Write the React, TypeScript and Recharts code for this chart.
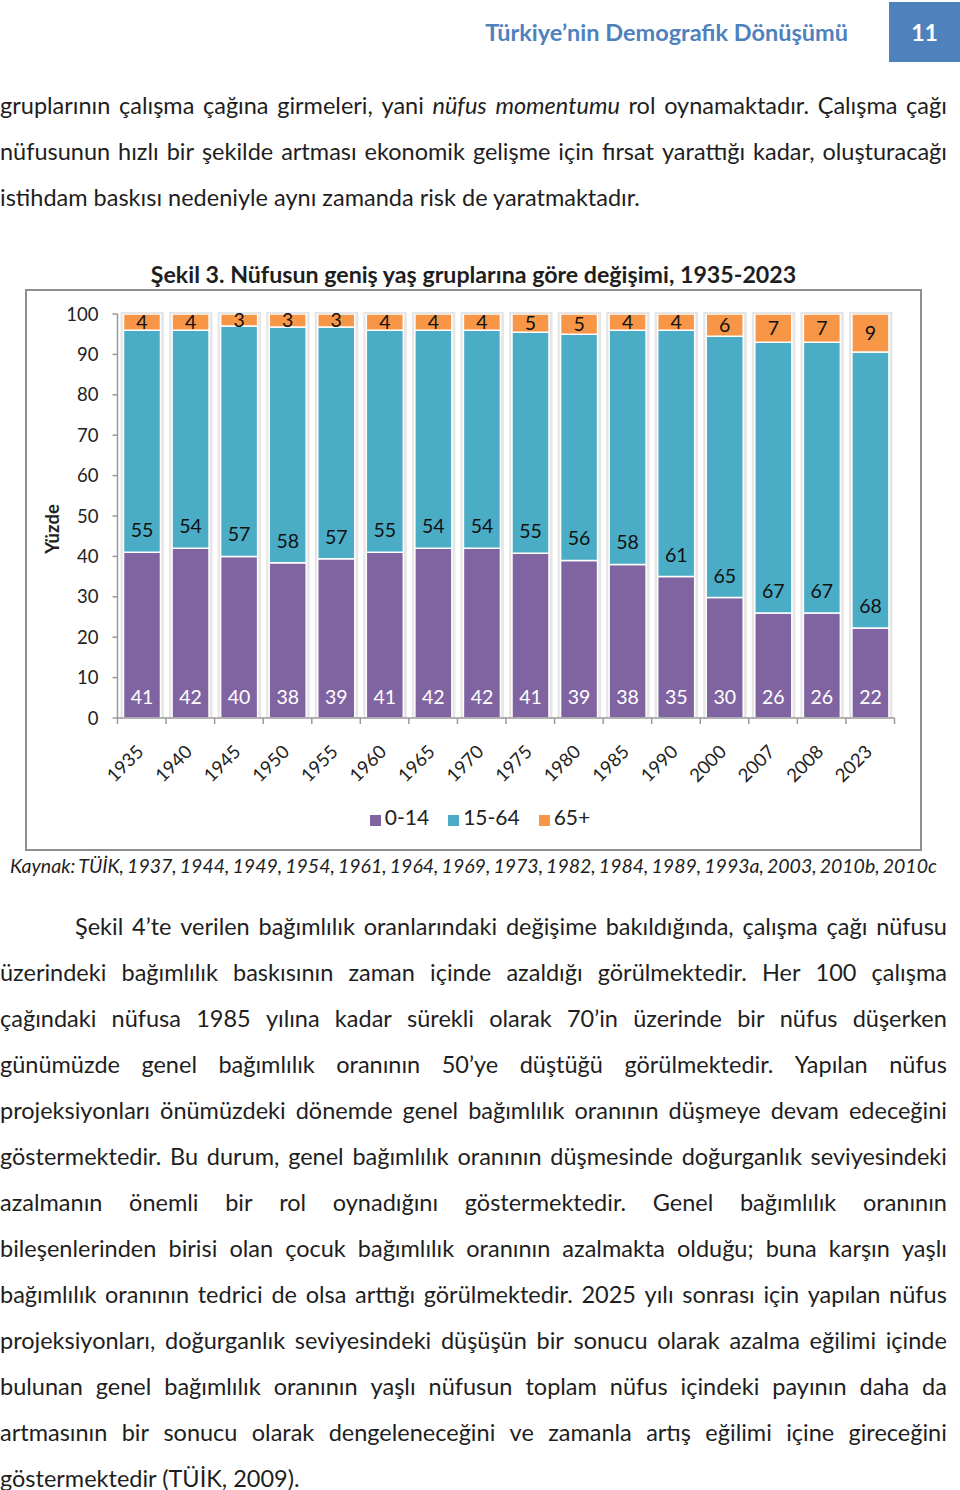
import React from 'react';
import { BarChart, Bar, XAxis, YAxis, Legend, LabelList } from 'recharts';

const years = ['1935', '1940', '1945', '1950', '1955', '1960', '1965', '1970', '1975', '1980', '1985', '1990', '2000', '2007', '2008', '2023'];
const age0to14 = [41, 42, 40, 38.4, 39.4, 41, 42, 42, 40.8, 39, 38, 35, 29.8, 26, 26, 22.3];
const age15to64 = [55, 54, 57, 58.4, 57.4, 55, 54, 54, 54.7, 56, 58, 61, 64.7, 67, 67, 68.3];
const age65plus = [4, 4, 3, 3.2, 3.2, 4, 4, 4, 4.5, 5, 4, 4, 5.5, 7, 7, 9.4];
const yTicks = [0, 10, 20, 30, 40, 50, 60, 70, 80, 90, 100];
const boundaryTicks = [0, 1, 2, 3, 4, 5, 6, 7, 8, 9, 10, 11, 12, 13, 14, 15, 16];

const seriesNames = ['0-14', '15-64', '65+'];
const colors = ['#8064a2', '#4bacc6', '#f79646'];

const data = years.map((y, i) => ({
  year: y,
  a: age0to14[i],
  b: age15to64[i],
  c: age65plus[i],
}));

const para1 = [
  'gruplarının çalışma çağına girmeleri, yani *nüfus* *momentumu* rol oynamaktadır. Çalışma çağı',
  'nüfusunun hızlı bir şekilde artması ekonomik gelişme için fırsat yarattığı kadar, oluşturacağı',
  'istihdam baskısı nedeniyle aynı zamanda risk de yaratmaktadır.',
];

const para2 = [
  'Şekil 4’te verilen bağımlılık oranlarındaki değişime bakıldığında, çalışma çağı nüfusu',
  'üzerindeki bağımlılık baskısının zaman içinde azaldığı görülmektedir. Her 100 çalışma',
  'çağındaki nüfusa 1985 yılına kadar sürekli olarak 70’in üzerinde bir nüfus düşerken',
  'günümüzde genel bağımlılık oranının 50’ye düştüğü görülmektedir. Yapılan nüfus',
  'projeksiyonları önümüzdeki dönemde genel bağımlılık oranının düşmeye devam edeceğini',
  'göstermektedir. Bu durum, genel bağımlılık oranının düşmesinde doğurganlık seviyesindeki',
  'azalmanın önemli bir rol oynadığını göstermektedir. Genel bağımlılık oranının',
  'bileşenlerinden birisi olan çocuk bağımlılık oranının azalmakta olduğu; buna karşın yaşlı',
  'bağımlılık oranının tedrici de olsa arttığı görülmektedir. 2025 yılı sonrası için yapılan nüfus',
  'projeksiyonları, doğurganlık seviyesindeki düşüşün bir sonucu olarak azalma eğilimi içinde',
  'bulunan genel bağımlılık oranının yaşlı nüfusun toplam nüfus içindeki payının daha da',
  'artmasının bir sonucu olarak dengeleneceğini ve zamanla artış eğilimi içine gireceğini',
  'göstermektedir (TÜİK, 2009).',
];

const sourceText = 'Kaynak: TÜİK, 1937, 1944, 1949, 1954, 1961, 1964, 1969, 1973, 1982, 1984, 1989, 1993a, 2003, 2010b, 2010c';

const FONT = 'Lato, "Open Sans", sans-serif';
const TEXT = '#1e1e1e';
const BODY = 23.5;

function renderWords(text: string) {
  return text.split(' ').map((w, i) => {
    const it = w.startsWith('*') && w.endsWith('*');
    const word = it ? w.slice(1, -1) : w;
    return (
      <span key={i} style={{ fontStyle: it ? 'italic' : undefined, whiteSpace: 'nowrap' }}>
        {word}
      </span>
    );
  });
}

function TextLine(props: { text: string; center: number; left: number; width: number; justify: boolean; size: number; italic?: boolean }) {
  const { text, center, left, width, justify, size, italic } = props;
  const lh = 24;
  const base: React.CSSProperties = {
    position: 'absolute',
    top: center - lh / 2,
    left,
    width,
    height: lh,
    lineHeight: lh + 'px',
    fontSize: size,
    fontStyle: italic ? 'italic' : 'normal',
    color: TEXT,
    whiteSpace: 'nowrap',
  };
  if (justify) {
    return <div style={{ ...base, display: 'flex', justifyContent: 'space-between' }}>{renderWords(text)}</div>;
  }
  const words = renderWords(text);
  const out: React.ReactNode[] = [];
  words.forEach((w, i) => {
    if (i > 0) out.push(' ');
    out.push(w);
  });
  return <div style={base}>{out}</div>;
}

const BarBackground = (props: any) => {
  const { x, y, width, height } = props;
  return <rect x={x - 3} y={y - 2} width={width + 6.5} height={height + 2} fill="#e6e6e6" />;
};

const XTick = (props: any) => {
  const { x, y, payload } = props;
  const ax = x + 3;
  const ay = y + 34;
  return (
    <text x={ax} y={ay} textAnchor="end" transform={`rotate(-45 ${ax} ${ay})`} fontSize={18.5} fill="#222" fontFamily={FONT}>
      {payload.value}
    </text>
  );
};

const YLabel = (props: any) => {
  const vb = props.viewBox || {};
  const cx = vb.x - 5.5;
  const cy = vb.y + vb.height / 2 + 13;
  return (
    <text x={cx} y={cy} textAnchor="middle" dominantBaseline="central" transform={`rotate(-90 ${cx} ${cy})`} fontSize={18.5} fontWeight={700} fill="#222" fontFamily={FONT}>
      Yüzde
    </text>
  );
};

const fmt = (v: any) => Math.round(Number(v));

export default function App() {
  return (
    <div style={{ position: 'absolute', top: 0, left: 0, width: 960, height: 1490, background: '#fff', fontFamily: FONT }}>
      {/* header */}
      <div style={{ position: 'absolute', top: 17, left: 380, width: 468, height: 30, lineHeight: '30px', textAlign: 'right', color: '#4f81bd', fontWeight: 700, fontSize: 23.5 }}>
        Türkiye’nin Demografik Dönüşümü
      </div>
      <div style={{ position: 'absolute', top: 2, left: 889, width: 71, height: 60, background: '#4f81bd', color: '#fff', fontWeight: 700, fontSize: 23, lineHeight: '60px', textAlign: 'center' }}>
        11
      </div>

      {para1.map((t, i) => (
        <TextLine key={'p1' + i} text={t} center={105 + i * 46} left={0} width={947} justify={i < para1.length - 1} size={BODY} />
      ))}

      {/* figure title */}
      <div style={{ position: 'absolute', top: 259, left: 0, width: 947, height: 30, lineHeight: '30px', textAlign: 'center', fontWeight: 700, fontSize: 23.2, color: TEXT }}>
        Şekil 3. Nüfusun geniş yaş gruplarına göre değişimi, 1935-2023
      </div>

      {/* frame */}
      <div style={{ position: 'absolute', top: 289, left: 25, width: 897, height: 562, border: '2px solid #8f8f8f', boxSizing: 'border-box' }} />

      <div style={{ position: 'absolute', top: 290, left: 0 }}>
        <BarChart width={960} height={560} data={data} margin={{ top: 24, right: 65.5, bottom: 61, left: 57.5 }} style={{ fontFamily: FONT }}>
          <XAxis
            type="number"
            dataKey="none"
            domain={[0, 16]}
            ticks={boundaryTicks}
            interval={0}
            height={1}
            tick={() => <g />}
            tickSize={6}
            axisLine={{ stroke: '#9a9a9a', strokeWidth: 1.5 }}
            tickLine={{ stroke: '#9a9a9a', strokeWidth: 1.5 }}
            allowDataOverflow
          />
          <XAxis
            xAxisId="years"
            dataKey="year"
            interval={0}
            height={70}
            axisLine={false}
            tickLine={false}
            tickSize={0}
            tickMargin={0}
            tick={<XTick />}
          />
          <YAxis
            width={60}
            domain={[0, 100]}
            ticks={yTicks}
            interval={0}
            allowDataOverflow
            tickSize={5}
            tickMargin={14}
            axisLine={{ stroke: '#9a9a9a', strokeWidth: 1.5 }}
            tickLine={{ stroke: '#9a9a9a', strokeWidth: 1.5 }}
            tick={{ fontSize: 18.5, fill: '#222', fontFamily: FONT }}
            label={<YLabel />}
          />
          <Legend
            verticalAlign="middle"
            align="center"
            layout="horizontal"
            iconType="square"
            iconSize={11}
            wrapperStyle={{ top: 514, left: 71, lineHeight: '26px' }}
            formatter={(value: any) => <span style={{ color: '#222', fontSize: 21, fontFamily: FONT, marginRight: 9 }}>{value}</span>}
          />
          <Bar xAxisId="years" dataKey="a" name={seriesNames[0]} stackId="s" fill={colors[0]} stroke="#fff" strokeWidth={1.5} barSize={37} isAnimationActive={false} background={BarBackground}>
            <LabelList dataKey="a" position="insideBottom" offset={14} fill="#fff" fontSize={19.5} fontFamily={FONT} formatter={fmt} />
          </Bar>
          <Bar xAxisId="years" dataKey="b" name={seriesNames[1]} stackId="s" fill={colors[1]} stroke="#fff" strokeWidth={1.5} barSize={37} isAnimationActive={false}>
            <LabelList dataKey="b" position="insideBottom" offset={15} fill="#111" fontSize={19.5} fontFamily={FONT} formatter={fmt} />
          </Bar>
          <Bar xAxisId="years" dataKey="c" name={seriesNames[2]} stackId="s" fill={colors[2]} stroke="#fff" strokeWidth={1.5} barSize={37} isAnimationActive={false}>
            <LabelList dataKey="c" position="center" fill="#111" fontSize={19.5} fontFamily={FONT} formatter={fmt} />
          </Bar>
        </BarChart>
      </div>

      <TextLine text={sourceText} center={866} left={10} width={927} justify={true} size={19.5} italic />

      {para2.map((t, i) => (
        <TextLine
          key={'p2' + i}
          text={t}
          center={926 + i * 46}
          left={i === 0 ? 75 : 0}
          width={i === 0 ? 872 : 947}
          justify={i < para2.length - 1}
          size={BODY}
        />
      ))}
    </div>
  );
}
